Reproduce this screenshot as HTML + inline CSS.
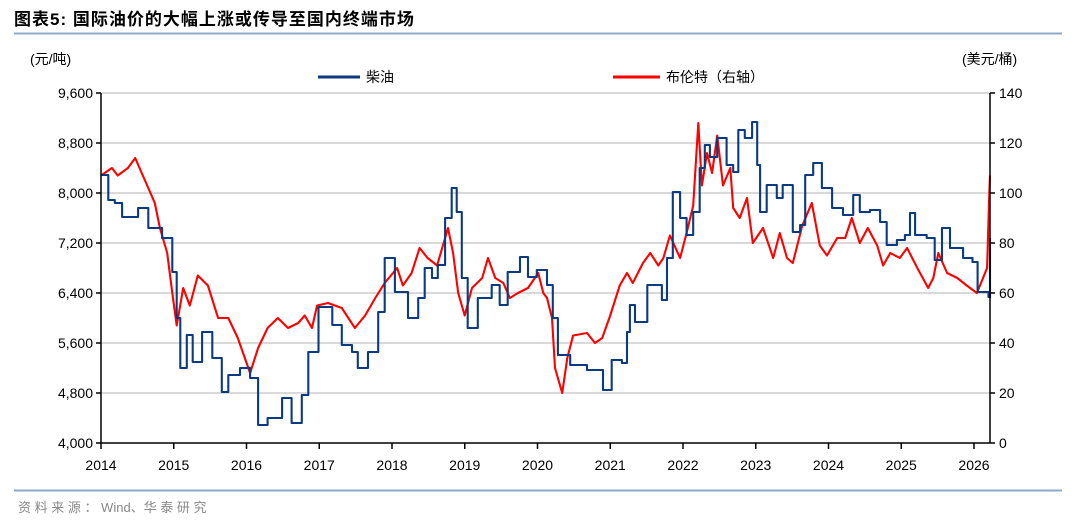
<!DOCTYPE html>
<html><head><meta charset="utf-8"><style>
body{margin:0;background:#fff;width:1080px;height:525px;overflow:hidden;font-family:"Liberation Sans","Noto Sans CJK SC",sans-serif;}
</style></head><body>
<svg id="chart" width="1080" height="525" xmlns="http://www.w3.org/2000/svg" font-family="Liberation Sans, Noto Sans CJK SC, sans-serif">
<text x="14" y="25" font-size="17" font-weight="bold" fill="#000" letter-spacing="1">图表5:   国际油价的大幅上涨或传导至国内终端市场</text>
<line x1="14" y1="33.5" x2="1062" y2="33.5" stroke="#8ea8c8" stroke-width="2"/>
<text x="30" y="64" font-size="14" fill="#000">(元/吨)</text>
<text x="962" y="64" font-size="14" fill="#000">(美元/桶)</text>
<line x1="318" y1="77" x2="360" y2="77" stroke="#0b3a80" stroke-width="3"/>
<text x="366" y="82" font-size="14" fill="#000">柴油</text>
<line x1="613" y1="77" x2="660" y2="77" stroke="#ff0000" stroke-width="3"/>
<text x="666" y="82" font-size="14" fill="#000">布伦特（右轴）</text>
<g id="grid"></g><g id="series"></g><g id="axes"></g>
<line x1="14" y1="490.5" x2="1062" y2="490.5" stroke="#8ea8c8" stroke-width="2"/>
<text x="18" y="512" font-size="13" fill="#888">资 料 来 源 ： Wind、华 泰 研 究</text>
</svg>
<script>
const xTicks=[2014,2015,2016,2017,2018,2019,2020,2021,2022,2023,2024,2025,2026];
const leftTicks=[4000,4800,5600,6400,7200,8000,8800,9600];
const rightTicks=[0,20,40,60,80,100,120,140];
const dieselDates=[2014.00,2014.10,2014.19,2014.29,2014.51,2014.65,2014.84,2014.98,2015.04,2015.09,2015.18,2015.26,2015.39,2015.53,2015.66,2015.75,2015.91,2016.05,2016.16,2016.29,2016.49,2016.62,2016.76,2016.85,2016.99,2017.18,2017.31,2017.45,2017.53,2017.67,2017.81,2017.90,2017.97,2018.04,2018.22,2018.36,2018.45,2018.55,2018.63,2018.73,2018.82,2018.89,2018.96,2019.04,2019.18,2019.37,2019.48,2019.59,2019.76,2019.87,2019.99,2020.13,2020.21,2020.28,2020.45,2020.68,2020.90,2021.02,2021.16,2021.23,2021.27,2021.34,2021.51,2021.57,2021.71,2021.78,2021.86,2021.96,2022.05,2022.14,2022.23,2022.30,2022.37,2022.47,2022.60,2022.69,2022.76,2022.85,2022.95,2023.02,2023.06,2023.15,2023.29,2023.37,2023.51,2023.61,2023.68,2023.79,2023.91,2024.05,2024.20,2024.34,2024.43,2024.57,2024.71,2024.80,2024.94,2025.05,2025.12,2025.19,2025.35,2025.46,2025.56,2025.67,2025.85,2025.98,2026.05,2026.20,2026.22];
const dieselValues=[8288,7888,7840,7616,7760,7440,7280,6736,6000,5200,5728,5296,5776,5360,4816,5088,5200,5040,4288,4400,4720,4320,4768,5456,6176,5888,5568,5456,5200,5456,6096,6960,6960,6416,6000,6320,6800,6640,6848,7600,8080,7696,6640,5840,6320,6528,6208,6736,6976,6656,6768,6528,6000,5408,5248,5168,4848,5328,5280,5776,6208,5936,6528,6528,6288,6960,8016,7600,7328,7696,8400,8768,8576,8880,8448,8336,9008,8880,9136,8448,7696,8128,7920,8128,7376,7488,8288,8480,8080,7760,7648,7968,7696,7728,7536,7168,7248,7328,7680,7328,7280,6928,7440,7120,6960,6896,6416,6336,7280];
const brentDates=[2014.00,2014.15,2014.23,2014.37,2014.47,2014.56,2014.65,2014.74,2014.81,2014.91,2014.98,2015.04,2015.13,2015.22,2015.33,2015.47,2015.61,2015.75,2015.88,2016.05,2016.16,2016.29,2016.43,2016.57,2016.71,2016.80,2016.90,2016.97,2017.12,2017.31,2017.49,2017.63,2017.77,2017.90,2018.07,2018.15,2018.27,2018.38,2018.49,2018.62,2018.70,2018.77,2018.84,2018.91,2019.00,2019.10,2019.24,2019.32,2019.42,2019.53,2019.62,2019.73,2019.87,2020.01,2020.08,2020.13,2020.20,2020.24,2020.34,2020.41,2020.49,2020.68,2020.79,2020.89,2021.00,2021.13,2021.23,2021.31,2021.45,2021.55,2021.66,2021.73,2021.82,2021.96,2022.05,2022.14,2022.21,2022.26,2022.33,2022.40,2022.47,2022.55,2022.65,2022.69,2022.78,2022.88,2022.96,2023.10,2023.24,2023.33,2023.43,2023.51,2023.64,2023.77,2023.88,2023.98,2024.12,2024.23,2024.32,2024.43,2024.54,2024.67,2024.75,2024.85,2024.98,2025.08,2025.22,2025.37,2025.44,2025.51,2025.63,2025.77,2025.90,2026.04,2026.18,2026.21,2026.22];
const brentValues=[107,110,107,110,114,108,102,96,86,76,60,47,62,55,67,63,50,50,42,28,38,46,50,46,48,51,46,55,56,54,46,51,58,64,70,63,68,78,74,71,79,86,76,60,51,62,66,74,66,64,58,60,62,68,60,58,50,30,20,34,43,44,40,42,51,63,68,64,72,76,71,74,83,74,84,95,128,103,116,108,123,103,110,94,90,98,80,86,74,84,74,72,87,96,79,75,82,82,90,80,86,79,71,76,74,78,70,62,66,76,68,66,63,60,70,100,107];
const X0=101,X1=990,YT=93,YB=443;
const xs=d=>X0+(d-2014)/(2026.22-2014)*(X1-X0);
const yl=v=>YB-(v-4000)/(9600-4000)*(YB-YT);
const yr=v=>YB-v/140*(YB-YT);
const NS='http://www.w3.org/2000/svg';
function mk(t,a,p){const e=document.createElementNS(NS,t);for(const k in a)e.setAttribute(k,a[k]);p.appendChild(e);return e;}
const grid=document.getElementById('grid'),axes=document.getElementById('axes'),ser=document.getElementById('series');
leftTicks.forEach((v,i)=>{
  if(v>4000){const g=mk('line',{x1:X0,x2:X1,y1:yl(v),y2:yl(v),stroke:'#d9d9d9','stroke-width':2},grid);
  
  }
  const t=mk('text',{x:X0-8,y:yl(v)+5,'text-anchor':'end','font-size':14,fill:'#000'},axes);t.textContent=v.toLocaleString('en-US');
  
  
  const tk=mk('line',{x1:X0-5,x2:X0,y1:yl(v),y2:yl(v),stroke:'#000','stroke-width':1.5},axes);
  
  
});
rightTicks.forEach(v=>{
  const t=mk('text',{x:X1+9,y:yr(v)+5,'text-anchor':'start','font-size':14,fill:'#000'},axes);t.textContent=v;
  
  
  const tk=mk('line',{x1:X1,x2:X1+5,y1:yr(v),y2:yr(v),stroke:'#000','stroke-width':1.5},axes);
  
  
});
xTicks.forEach(v=>{
  const t=mk('text',{x:xs(v),y:YB+27,'text-anchor':'middle','font-size':14,fill:'#000'},axes);t.textContent=v;
  
  
  const tk=mk('line',{x1:xs(v),x2:xs(v),y1:YB,y2:YB+6,stroke:'#000','stroke-width':1.5},axes);
  
  
});
const la=mk('line',{x1:X0,x2:X0,y1:YT,y2:YB,stroke:'#000','stroke-width':1.5},axes);


const ra=mk('line',{x1:X1,x2:X1,y1:YT,y2:YB,stroke:'#000','stroke-width':1.5},axes);


const ba=mk('line',{x1:X0,x2:X1,y1:YB,y2:YB,stroke:'#000','stroke-width':1.5},axes);


const pb=mk('polyline',{points:brentDates.map((d,i)=>xs(d).toFixed(1)+','+yr(brentValues[i]).toFixed(1)).join(' '),fill:'none',stroke:'#ff0000','stroke-width':2.1,'stroke-linejoin':'round'},ser);


const dpts=[];
dieselDates.forEach((d,i)=>{
  if(i>0)dpts.push(xs(d).toFixed(1)+','+yl(dieselValues[i-1]).toFixed(1));
  dpts.push(xs(d).toFixed(1)+','+yl(dieselValues[i]).toFixed(1));
});
const pd=mk('polyline',{points:dpts.join(' '),fill:'none',stroke:'#0b3a80','stroke-width':2.1,'stroke-linejoin':'round'},ser);


</script>
</body></html>
